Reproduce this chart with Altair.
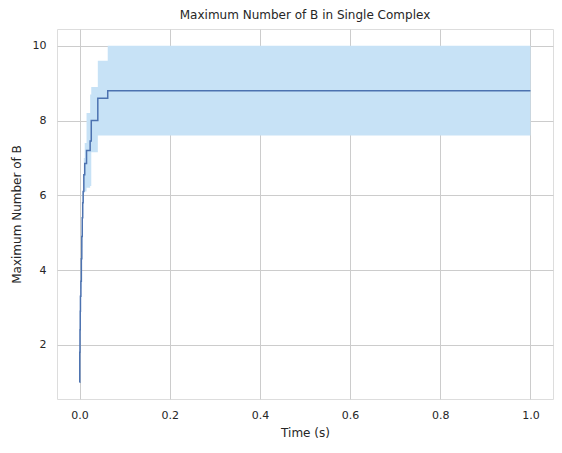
import altair as alt
import pandas as pd

# Data (step function: mean with a min/max band)
time_s = [0.0, 0.0005, 0.001, 0.0015, 0.002, 0.003, 0.004, 0.005, 0.006, 0.007,
          0.008, 0.0095, 0.0115, 0.0155, 0.0235, 0.026, 0.0405, 0.0625, 1.0]
mean_b = [1.0, 1.8, 2.4, 2.9, 3.3, 3.7, 4.3, 4.9, 5.4, 5.8,
          6.1, 6.55, 6.85, 7.2, 7.45, 8.0, 8.6, 8.8, 8.8]
low_b = [1.0, 1.7, 2.2, 2.7, 3.1, 3.5, 4.0, 4.6, 5.1, 5.5,
         5.8, 6.1, 6.1, 6.2, 6.25, 7.15, 7.6, 7.6, 7.6]
high_b = [1.0, 1.9, 2.6, 3.1, 3.5, 3.9, 4.6, 5.2, 5.7, 6.1,
          6.4, 7.0, 7.4, 8.2, 8.7, 8.9, 9.6, 10.0, 10.0]

df = pd.DataFrame({"t": time_s, "mean": mean_b, "lo": low_b, "hi": high_b})

TEXT = "#262626"
GRID = "#cccccc"

x_scale = alt.Scale(domain=[-0.05, 1.05], nice=False, zero=False)
y_scale = alt.Scale(domain=[0.55, 10.45], nice=False, zero=False)

common = dict(grid=True, ticks=False, tickSize=0, domain=False,
              labelFont="DejaVu Sans", titleFont="DejaVu Sans",
              labelFontSize=11, titleFontSize=12, labelColor=TEXT, titleColor=TEXT,
              titleFontWeight="normal", gridColor=GRID, gridWidth=1)

x_axis = alt.Axis(title="Time (s)", values=[0, 0.2, 0.4, 0.6, 0.8, 1.0], format=".1f",
                  labelPadding=10, titlePadding=7, **common)
y_axis = alt.Axis(title="Maximum Number of B", values=[2, 4, 6, 8, 10], format="d",
                  labelPadding=11, titlePadding=9, **common)

band = alt.Chart(df).mark_area(interpolate="step-after", color="#c7e2f6", opacity=1).encode(
    x=alt.X("t:Q", scale=x_scale, axis=x_axis),
    y=alt.Y("lo:Q", scale=y_scale, axis=y_axis),
    y2="hi:Q",
)

line = alt.Chart(df).mark_line(interpolate="step-after", color="#4c72b0", strokeWidth=1.5).encode(
    x=alt.X("t:Q", scale=x_scale),
    y=alt.Y("mean:Q", scale=y_scale),
)

chart = alt.layer(band, line).properties(
    width=496,
    height=370,
    title=alt.TitleParams("Maximum Number of B in Single Complex", fontSize=12,
                          font="DejaVu Sans", color=TEXT, fontWeight="normal", offset=7),
    autosize=alt.AutoSizeParams(type="none"),
    padding={"left": 49, "top": 21, "right": 1, "bottom": 46},
).configure_view(
    stroke=GRID, strokeWidth=1.2
).configure(background="white")

chart.save("out.html", embed_options={"renderer": "svg", "actions": False})
